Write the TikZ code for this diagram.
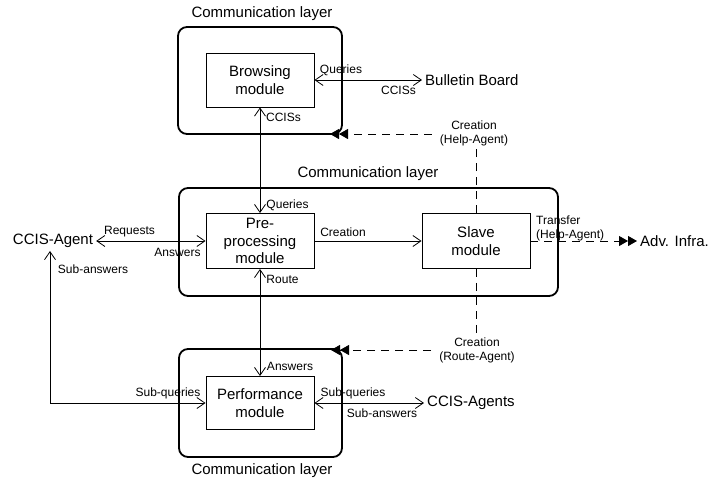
\documentclass[tikz,border=0pt]{standalone}
\usepackage{fontspec}
\setmainfont{Liberation Sans}
\usetikzlibrary{arrows.meta}
\begin{document}
\begin{tikzpicture}[x=1pt,y=-1pt,
  big/.style={font=\fontsize{15}{17.5}\selectfont},
  lbl/.style={font=\fontsize{12}{14}\selectfont, inner sep=0pt, align=center},
  layer/.style={draw, line width=1.8pt, rounded corners=9pt, inner sep=0pt},
  module/.style={draw, line width=0.9pt, inner sep=0pt, minimum width=108pt, minimum height=54pt, align=center, big},
  conn/.style={line width=0.8pt},
  >={Straight Barb[length=8pt,width=11pt]},
  dsh/.style={line width=0.8pt, dash pattern=on 8pt off 6pt},
  dbl/.style={-{Triangle[length=9pt,width=10pt,sep=0pt]Triangle[length=9pt,width=10pt]}},
  ext/.style={big, inner sep=3pt}]
\useasboundingbox (0,0) rectangle (712,480);
% communication layers
\node[layer, minimum width=164pt, minimum height=107pt] (topbox) at (260,80.5) {};
\node[layer, minimum width=379pt, minimum height=108pt] (midbox) at (368.5,242) {};
\node[layer, minimum width=163pt, minimum height=108pt] (botbox) at (260.5,403) {};
\node[big] (t1) at (262,14) {Communication layer};
\node[big] (t2) at (368,174) {Communication layer};
\node[big] (t3) at (262,471) {Communication layer};
% modules
\node[module] (browse) at (260,80) {Browsing\\module};
\node[module, minimum height=55pt] (pre) at (260,241) {Pre-\\processing\\module};
\node[module, minimum height=55pt] (slave) at (476,241) {Slave\\module};
\node[module, minimum height=53pt] (perf) at (260,403) {Performance\\module};
% external
\node[ext, anchor=west] (bb) at (422,80) {Bulletin Board};
\node[ext] (ca) at (53,241) {CCIS-Agent};
\node[ext, anchor=west] (cas) at (424,403) {CCIS-Agents};
\node[ext, anchor=west] (adv) at (637,241) {Adv. Infra.};
% labels
\node[lbl] (lq1) at (341,70) {Queries};
\node[lbl] (lc1) at (398.5,90) {CCISs};
\node[lbl] (lc2) at (283.5,117) {CCISs};
\node[lbl] (lhelp) at (474,133) {Creation\\(Help-Agent)};
\node[lbl] (lq2) at (287.5,205) {Queries};
\node[lbl] (lreq) at (129.5,232) {Requests};
\node[lbl] (lans1) at (177.5,252) {Answers};
\node[lbl] (lroute) at (282.5,279) {Route};
\node[lbl] (lsa1) at (93,269) {Sub-answers};
\node[lbl] (lcre) at (343,232) {Creation};
\node[lbl, align=left, anchor=west] (ltr) at (536,228) {Transfer\\(Help-Agent)};
\node[lbl] (lroute2) at (477,350) {Creation\\(Route-Agent)};
\node[lbl] (lans2) at (290,366) {Answers};
\node[lbl] (lsq1) at (168,393) {Sub-queries};
\node[lbl] (lsq2) at (353,393) {Sub-queries};
\node[lbl] (lsa2) at (382,413) {Sub-answers};
% connectors
\draw[conn,<->] (browse.east) -- (bb.west);
\draw[conn,<->] (browse.south) -- (pre.north);
\draw[conn,<->] (pre.south) -- (perf.north);
\draw[conn,<->] (ca.east) -- (pre.west);
\draw[conn,->] (pre.east) -- (slave.west);
\draw[conn,<->] (perf.east) -- (cas.west);
\coordinate (sw) at (50,403);
\draw[conn,<->] (perf.west) -- (sw) -- (sw |- ca.south);
% dashed creation links
\coordinate (htip) at (330,134);
\coordinate (rtip) at (331,350);
\draw[dsh] (slave.north) -- (slave.north |- lhelp.south);
\draw[dsh,dbl] ([xshift=-8pt]lhelp.west |- htip) -- (htip);
\draw[dsh] (slave.south) -- (slave.south |- lroute2.north);
\draw[dsh,dbl] ([xshift=-8pt]lroute2.west) -- (rtip);
\draw[dsh,dbl] (slave.east) -- (adv.west);
\end{tikzpicture}
\end{document}
